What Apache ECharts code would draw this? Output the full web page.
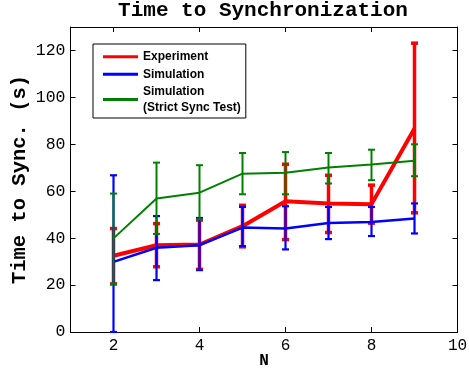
<!DOCTYPE html>
<html><head><meta charset="utf-8">
<script src="https://cdn.jsdelivr.net/npm/echarts@6/dist/echarts.min.js"></script>
<style>html,body{margin:0;padding:0;background:#fff}#c{width:469px;height:371px}</style>
</head><body><div id="c"></div>
<script>
const N = [2, 3, 4, 5, 6, 7, 8, 9];
const expMean = [32.5, 37.0, 37.3, 45.1, 55.7, 54.8, 54.5, 86.7];
const expLow = [20.5, 27.8, 26.7, 36.3, 39.4, 42.4, 46.4, 50.8];
const expHigh = [44.1, 46.2, 47.7, 54.0, 71.5, 66.8, 62.6, 123.1];
const simMean = [29.9, 35.9, 37.0, 44.5, 44.1, 46.5, 46.9, 48.4];
const simLow = [0, 22.1, 26.4, 36.6, 35.2, 39.6, 40.9, 42.0];
const simHigh = [66.8, 49.4, 48.6, 53.3, 53.6, 53.3, 53.3, 54.8];
const strictMean = [39.9, 56.9, 59.4, 67.5, 67.9, 70.1, 71.4, 73.0];
const strictLow = [20.3, 41.8, 48.0, 58.7, 58.7, 63.3, 64.7, 66.4];
const strictHigh = [59.0, 72.2, 71.1, 76.3, 76.7, 76.3, 77.7, 80.0];
const xTicks = [2, 4, 6, 8, 10];
const yTicks = [0, 20, 40, 60, 80, 100, 120];

const RED = '#ff0000', BLUE = '#0000ff', GREEN = '#008000';
const mono = '"Liberation Mono", "DejaVu Sans Mono", monospace';

function lineData(m) { return N.map((n, i) => [n, m[i]]); }
function errData(lo, hi) { return N.map((n, i) => [n, lo[i], hi[i]]); }
function errSeries(name, lo, hi, color, w) {
  return {
    type: 'custom', name: name + '_err', data: errData(lo, hi), silent: true,
    renderItem: function (params, api) {
      const x = api.value(0);
      const a = api.coord([x, api.value(1)]);
      const b = api.coord([x, api.value(2)]);
      const cw = 3.5;
      const st = { stroke: color, lineWidth: w, fill: null };
      return { type: 'group', children: [
        { type: 'line', shape: { x1: a[0], y1: a[1], x2: b[0], y2: b[1] }, style: st },
        { type: 'line', shape: { x1: a[0] - cw, y1: a[1], x2: a[0] + cw, y2: a[1] }, style: st },
        { type: 'line', shape: { x1: b[0] - cw, y1: b[1], x2: b[0] + cw, y2: b[1] }, style: st }
      ]};
    }
  };
}

const chart = echarts.init(document.getElementById('c'), null, { renderer: 'canvas' });
const axisBase = {
  axisLine: { show: true, onZero: false, lineStyle: { color: '#000', width: 1 } },
  splitLine: { show: false }
};
chart.setOption({
  animation: false,
  backgroundColor: '#fff',
  title: {
    text: 'Time to Synchronization', left: 263, top: 0, padding: 0, textAlign: 'center',
    textStyle: { fontFamily: mono, fontWeight: 'bold', fontSize: 21, color: '#000' }
  },
  grid: { left: 70.5, right: 11.5, top: 27, bottom: 39, containLabel: false, outerBoundsMode: 'none' },
  legend: {
    orient: 'vertical', left: 93, top: 44,
    padding: [5, 5, 3, 10], itemGap: 2, itemWidth: 35, itemHeight: 3,
    icon: 'rect',
    backgroundColor: '#fff', borderColor: '#000', borderWidth: 1, borderRadius: 0,
    textStyle: { fontFamily: '"Liberation Sans", Arial, sans-serif', fontWeight: 'bold', fontSize: 12, color: '#000', lineHeight: 15.5 },
    data: ['Experiment', 'Simulation', 'Simulation\n(Strict Sync Test)']
  },
  xAxis: [
    Object.assign({}, axisBase, {
      type: 'value', min: 1, max: 10, position: 'bottom',
      name: 'N', nameLocation: 'middle', nameGap: 21, nameMoveOverlap: false,
      nameTextStyle: { fontFamily: mono, fontWeight: 'bold', fontSize: 16, color: '#000' },
      axisTick: { show: true, inside: true, length: 5, customValues: xTicks, lineStyle: { color: '#000' } },
      axisLabel: { customValues: xTicks, fontFamily: mono, fontSize: 16, color: '#000', margin: 6 }
    }),
    Object.assign({}, axisBase, {
      type: 'value', min: 1, max: 10, position: 'top',
      axisTick: { show: true, inside: true, length: 5, customValues: xTicks, lineStyle: { color: '#000' } },
      axisLabel: { show: false }
    })
  ],
  yAxis: [
    Object.assign({}, axisBase, {
      type: 'value', min: 0, max: 130, position: 'left',
      name: 'Time to Sync. (s)', nameLocation: 'middle', nameGap: 40, nameRotate: 90, nameMoveOverlap: false,
      nameTextStyle: { fontFamily: mono, fontWeight: 'bold', fontSize: 20.5, color: '#000' },
      axisTick: { show: true, inside: true, length: 5, customValues: yTicks, lineStyle: { color: '#000' } },
      axisLabel: { customValues: yTicks, fontFamily: mono, fontSize: 16.5, color: '#000', margin: 5 }
    }),
    Object.assign({}, axisBase, {
      type: 'value', min: 0, max: 130, position: 'right',
      axisTick: { show: true, inside: true, length: 5, customValues: yTicks, lineStyle: { color: '#000' } },
      axisLabel: { show: false }
    })
  ],
  series: [
    { type: 'line', name: 'Experiment', data: lineData(expMean), symbol: 'none', color: RED,
      lineStyle: { color: RED, width: 4 }, z: 2 },
    Object.assign(errSeries('Experiment', expLow, expHigh, RED, 3.5), { z: 2 }),
    { type: 'line', name: 'Simulation', data: lineData(simMean), symbol: 'none', color: BLUE,
      lineStyle: { color: BLUE, width: 2.5 }, z: 3 },
    Object.assign(errSeries('Simulation', simLow, simHigh, BLUE, 2.2), { z: 3 }),
    { type: 'line', name: 'Simulation\n(Strict Sync Test)', data: lineData(strictMean), symbol: 'none', color: GREEN,
      lineStyle: { color: GREEN, width: 2 }, z: 4 },
    Object.assign(errSeries('Strict', strictLow, strictHigh, GREEN, 2), { z: 4 })
  ]
});
</script></body></html>
